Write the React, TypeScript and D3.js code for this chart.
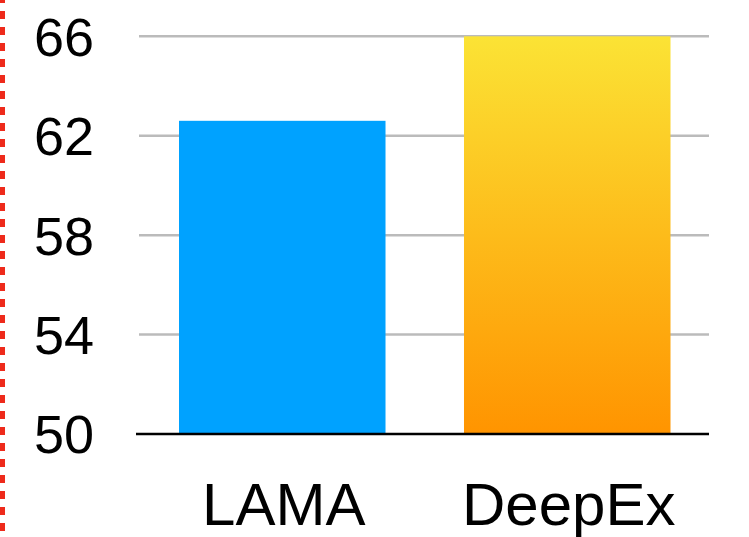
import * as d3 from "d3";
import * as React from "react";

const categories = ["LAMA", "DeepEx"];
const values = [62.6, 66];
const yTicks = [50, 54, 58, 62, 66];

const width = 749;
const height = 537;

export default class App extends React.Component<{}, {}> {
    mountRef: SVGSVGElement;

    componentDidMount() {
        const svg = d3.select(this.mountRef);
        const font = "'Liberation Sans', Arial, Helvetica, sans-serif";

        const x = d3.scaleBand()
            .domain(categories)
            .range([136.25, 713.25])
            .paddingInner(0.2754)
            .paddingOuter(0.15);

        const y = d3.scaleLinear()
            .domain([50, 66])
            .range([434, 36.3]);

        const defs = svg.append("defs");
        const grad = defs.append("linearGradient")
            .attr("id", "deepexGrad")
            .attr("x1", 0).attr("y1", 0)
            .attr("x2", 0).attr("y2", 1);
        grad.append("stop").attr("offset", "0%").attr("stop-color", "#fbe335");
        grad.append("stop").attr("offset", "100%").attr("stop-color", "#ff9400");

        // red dotted border on the left
        svg.append("line")
            .attr("x1", 2.5).attr("x2", 2.5)
            .attr("y1", -5).attr("y2", height)
            .attr("stroke", "#ee2a1b")
            .attr("stroke-width", 5)
            .attr("stroke-dasharray", "8,8");

        // gridlines
        svg.append("g")
            .selectAll("line")
            .data(yTicks.filter(t => t !== 50))
            .join("line")
            .attr("x1", 139).attr("x2", 709)
            .attr("y1", d => y(d)).attr("y2", d => y(d))
            .attr("stroke", "#bbbbbb")
            .attr("stroke-width", 2.5);

        // tick labels
        svg.append("g")
            .selectAll("text")
            .data(yTicks)
            .join("text")
            .attr("x", 94)
            .attr("y", d => y(d))
            .attr("dy", "0.36em")
            .attr("text-anchor", "end")
            .attr("font-family", font)
            .attr("font-size", 54)
            .attr("fill", "#000")
            .text(d => `${d}`);

        // bars
        svg.append("g")
            .selectAll("rect")
            .data(categories)
            .join("rect")
            .attr("x", d => x(d)!)
            .attr("width", x.bandwidth())
            .attr("y", (d, i) => y(values[i]))
            .attr("height", (d, i) => y(50) - y(values[i]))
            .attr("fill", (d, i) => i === 0 ? "#00a2ff" : "url(#deepexGrad)");

        // baseline
        svg.append("line")
            .attr("x1", 136).attr("x2", 709)
            .attr("y1", y(50)).attr("y2", y(50))
            .attr("stroke", "#000")
            .attr("stroke-width", 2.5);

        // category labels
        svg.append("g")
            .selectAll("text")
            .data(categories)
            .join("text")
            .attr("x", d => x(d)! + x.bandwidth() / 2 + 1.5)
            .attr("y", 525)
            .attr("text-anchor", "middle")
            .attr("font-family", font)
            .attr("font-size", 60)
            .attr("fill", "#000")
            .text(d => d);
    }

    render() {
        const style: React.CSSProperties = { position: "absolute", left: 0, top: 0, background: "#fff" };
        return <svg width={width} height={height} style={style} ref={ref => (this.mountRef = ref!)} />;
    }
}
